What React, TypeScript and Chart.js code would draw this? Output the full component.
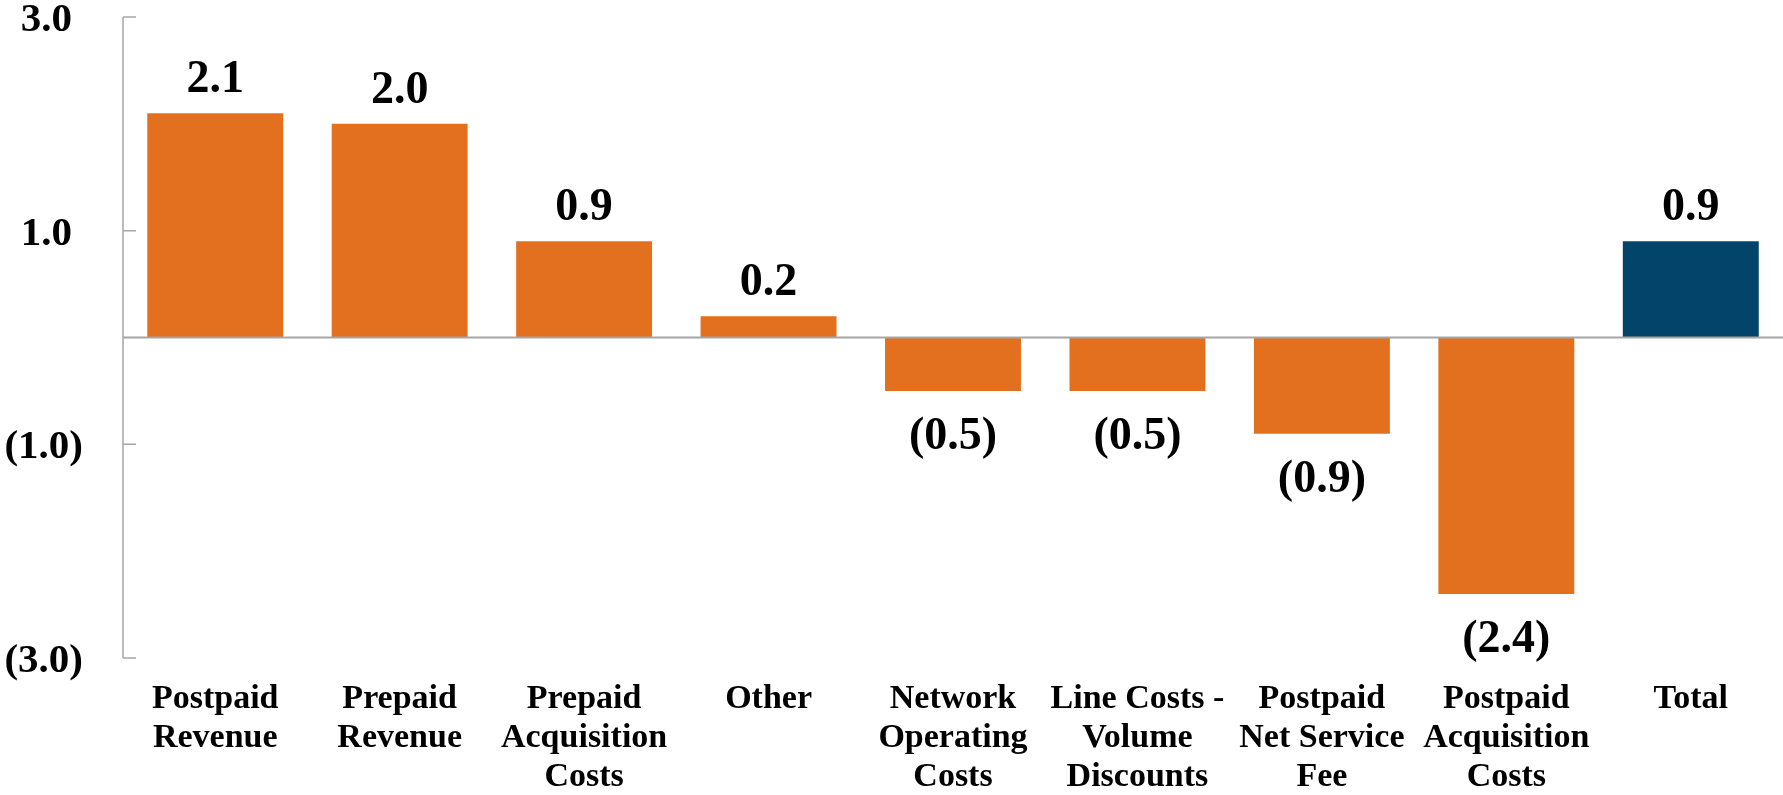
import React, { useEffect, useRef } from "react";
import { Chart, registerables } from "chart.js";

Chart.register(...registerables);

// Variance drivers, in the order they are shown, ending with the net total.
const categories: (string | string[])[] = [
  ["Postpaid", "Revenue"],
  ["Prepaid", "Revenue"],
  ["Prepaid", "Acquisition", "Costs"],
  "Other",
  ["Network", "Operating", "Costs"],
  ["Line Costs -", "Volume", "Discounts"],
  ["Postpaid", "Net Service", "Fee"],
  ["Postpaid", "Acquisition", "Costs"],
  "Total",
];

const values: number[] = [2.1, 2.0, 0.9, 0.2, -0.5, -0.5, -0.9, -2.4, 0.9];

const yTicks: number[] = [3, 1, -1, -3];
const yMin = -3;
const yMax = 3;

const ORANGE = "#E3701F";
const NAVY = "#03456A";
const AXIS_GREY = "#A6A6A6";
const FONT = '"Liberation Serif", "Times New Roman", serif';

// Accounting style: negatives in parentheses.
function fmt(v: number): string {
  const s = Math.abs(v).toFixed(1);
  return v < 0 ? `(${s})` : s;
}

// Draws the value axis (line, inward tick marks, labels), the zero line
// and the value label of every bar.
const valueAxisPlugin = {
  id: "valueAxis",
  afterDatasetsDraw(chart: any) {
    const { ctx, chartArea, scales } = chart;
    const y = scales.y;
    const left = chartArea.left;
    ctx.save();

    ctx.strokeStyle = AXIS_GREY;
    ctx.lineWidth = 1.5;
    ctx.beginPath();
    ctx.moveTo(left, y.getPixelForValue(yMax));
    ctx.lineTo(left, y.getPixelForValue(yMin));
    for (const t of yTicks) {
      const py = y.getPixelForValue(t);
      ctx.moveTo(left, py);
      ctx.lineTo(left + 13, py);
    }
    ctx.stroke();

    const zero = y.getPixelForValue(0);
    ctx.lineWidth = 2;
    ctx.beginPath();
    ctx.moveTo(left, zero);
    ctx.lineTo(chartArea.right, zero);
    ctx.stroke();

    ctx.fillStyle = "#000";
    ctx.textBaseline = "alphabetic";
    ctx.font = `bold 41px ${FONT}`;
    ctx.textAlign = "right";
    const paren = ctx.measureText(")").width;
    for (const t of yTicks) {
      const py = y.getPixelForValue(t);
      const x = left - 40 - (t >= 0 ? paren * 0.8 : 0);
      ctx.fillText(fmt(t), x, py + 14);
    }

    ctx.font = `bold 46px ${FONT}`;
    ctx.textAlign = "center";
    const meta = chart.getDatasetMeta(0);
    meta.data.forEach((bar: any, i: number) => {
      const v = values[i];
      const { x, y: end } = bar.getProps(["x", "y"], true);
      if (v >= 0) ctx.fillText(fmt(v), x, end - 21);
      else ctx.fillText(fmt(v), x, end + 58);
    });

    ctx.restore();
  },
};

export default function App() {
  const ref = useRef<HTMLCanvasElement>(null);

  useEffect(() => {
    const chart = new Chart(ref.current as HTMLCanvasElement, {
      type: "bar",
      data: {
        labels: categories,
        datasets: [
          {
            data: values,
            backgroundColor: (c: any) =>
              c.dataIndex === values.length - 1 ? NAVY : ORANGE,
            borderWidth: 0,
            barPercentage: 0.737,
            categoryPercentage: 1,
          },
        ],
      },
      options: {
        responsive: false,
        animation: false,
        layout: { padding: { left: 123, top: 17, right: 0, bottom: 0 } },
        plugins: {
          legend: { display: false },
          tooltip: { enabled: false },
        },
        scales: {
          x: {
            grid: { display: false, drawTicks: false },
            border: { display: false },
            ticks: {
              color: "#000",
              padding: 21,
              maxRotation: 0,
              autoSkip: false,
              font: { family: FONT, size: 34, weight: "bold", lineHeight: 1.16 },
            },
            afterFit: (scale: any) => {
              scale.height = 137;
              scale.paddingLeft = 0;
              scale.paddingRight = 0;
            },
          },
          y: {
            display: false,
            min: yMin,
            max: yMax,
          },
        },
      },
      plugins: [valueAxisPlugin],
    } as any);
    return () => chart.destroy();
  }, []);

  return (
    <div
      style={{
        position: "absolute",
        left: 0,
        top: 0,
        width: 1783,
        height: 795,
        background: "#fff",
      }}
    >
      <canvas ref={ref} width={1783} height={795} style={{ display: "block" }} />
    </div>
  );
}
